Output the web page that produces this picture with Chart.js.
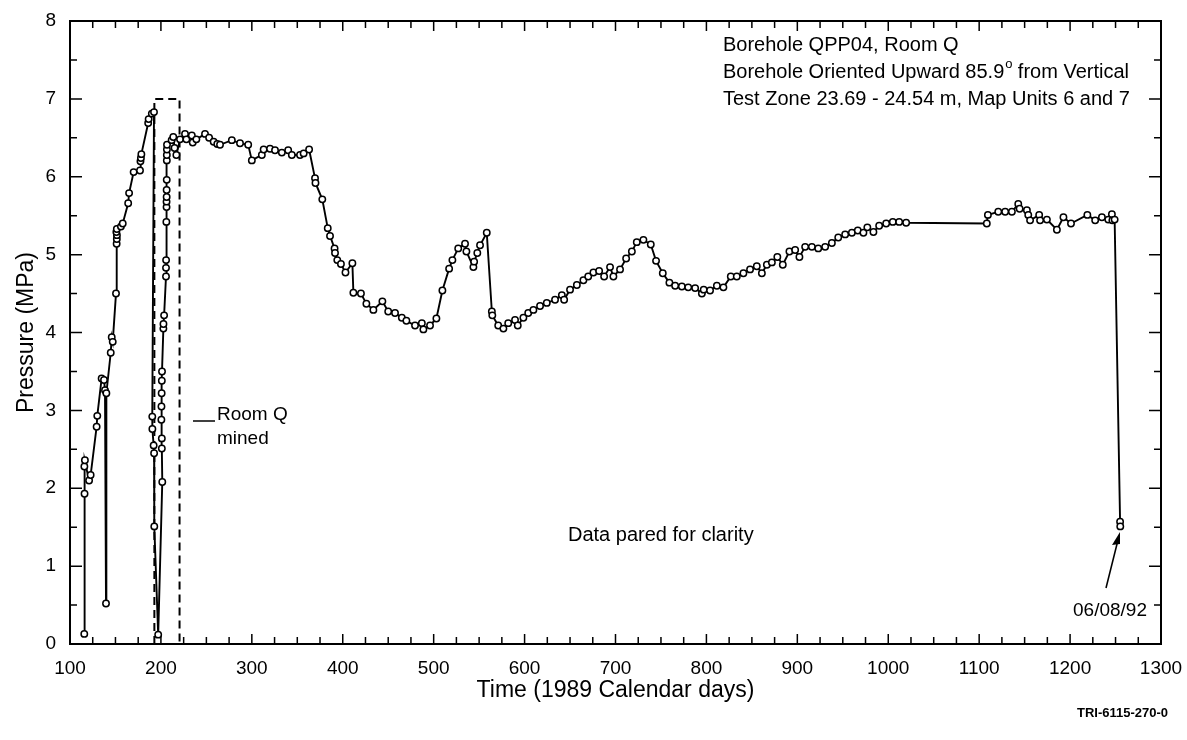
<!DOCTYPE html>
<html>
<head>
<meta charset="utf-8">
<script src="https://cdn.jsdelivr.net/npm/chart.js@4.4.1/dist/chart.umd.min.js"></script>
<style>
  html, body { margin: 0; padding: 0; background: #fff; }
  #wrap { width: 1187px; height: 740px; }
</style>
</head>
<body>
<div id="wrap"><canvas id="pressureChart" width="1187" height="740"></canvas></div>
<script>
// time in 1989 calendar days, pressure in MPa
const days = [
  115.7, 116.0, 115.8, 116.4, 121.0, 122.7, 129.3, 130.0, 134.8, 137.4,
  138.5, 139.6, 140.0, 144.8, 145.9, 147.0, 150.6, 151.3, 151.5, 151.6,
  151.0, 151.5, 156.0, 158.0, 164.0, 165.0, 170.0, 177.0, 177.5, 178.0,
  178.5, 186.0, 186.5, 190.0, 192.4, 190.5, 190.6, 192.0, 192.5, 192.7,
  197.0, 201.5, 201.0, 201.0, 200.5, 200.6, 200.8, 201.0, 201.2, 202.7,
  202.8, 203.5, 205.6, 205.6, 205.7, 206.0, 206.2, 206.2, 206.3, 206.3,
  206.4, 206.5, 206.5, 206.6, 206.7, 211.8, 213.6, 215.0, 217.0, 221.0,
  226.5, 228.0, 234.0, 235.0, 239.0, 248.5, 253, 258, 262, 265,
  278, 287, 296, 300, 311, 313, 320, 325.5, 333, 340,
  344, 353, 357, 363, 369.5, 370, 377.5, 383.5, 386, 391,
  391.5, 394, 398, 403, 410.6, 411.7, 420, 426, 433.7, 443.6,
  450, 457.5, 465, 470, 479.5, 487, 488.7, 496, 503, 509.6,
  517, 520.6, 527, 534.5, 536, 543.7, 544.5, 548, 551, 558.4,
  564, 564.5, 571, 576.7, 582, 589.5, 592.5, 598.7, 604, 609.7,
  617, 624.4, 633.5, 641, 643.5, 650, 657.5, 664.7, 670, 675.7,
  682, 687.5, 694, 697.7, 705, 711.7, 718, 723.4, 730.7, 738.8,
  744.6, 752, 759.3, 765.6, 773, 780, 787.6, 795, 797, 804,
  811.5, 818.7, 826.8, 833.4, 840.7, 848, 855.4, 861, 866.5, 872,
  878, 884, 891.3, 897.6, 902.3, 908.6, 916, 923, 930.6, 938,
  945, 952.6, 960, 966.5, 972.7, 977, 983.7, 990, 997.7, 1005,
  1012, 1019.7, 1108.4, 1109.6, 1121, 1128.6, 1136, 1143, 1144.5, 1152.5,
  1154, 1156, 1166, 1167, 1174.5, 1185.5, 1192.7, 1201, 1219, 1227.6,
  1235, 1242, 1246, 1246.5, 1249, 1255, 1255.2
];
const pressureMPa = [
  0.13, 1.93, 2.28, 2.36, 2.10, 2.17, 2.79, 2.93, 3.41, 3.39,
  3.26, 0.52, 3.22, 3.74, 3.94, 3.88, 4.50, 5.14, 5.20, 5.25,
  5.29, 5.33, 5.36, 5.40, 5.66, 5.79, 6.06, 6.08, 6.20, 6.24,
  6.29, 6.69, 6.74, 6.81, 6.83, 2.92, 2.76, 2.55, 2.45, 1.51,
  0.12, 2.08, 2.51, 2.64, 2.88, 3.05, 3.22, 3.38, 3.50, 4.05,
  4.11, 4.22, 4.72, 4.83, 4.93, 5.42, 5.61, 5.68, 5.74, 5.83,
  5.96, 6.21, 6.28, 6.35, 6.41, 6.47, 6.51, 6.37, 6.28, 6.48,
  6.55, 6.48, 6.53, 6.44, 6.48, 6.55, 6.50, 6.45, 6.42, 6.41,
  6.47, 6.43, 6.41, 6.21, 6.28, 6.35, 6.36, 6.34, 6.31, 6.34,
  6.28, 6.28, 6.30, 6.35, 5.98, 5.92, 5.71, 5.34, 5.24, 5.08,
  5.02, 4.93, 4.88, 4.77, 4.89, 4.51, 4.50, 4.37, 4.29, 4.40,
  4.27, 4.25, 4.19, 4.15, 4.09, 4.12, 4.04, 4.09, 4.18, 4.54,
  4.82, 4.93, 5.08, 5.14, 5.04, 4.84, 4.91, 5.02, 5.12, 5.28,
  4.27, 4.22, 4.09, 4.05, 4.12, 4.16, 4.09, 4.19, 4.25, 4.29,
  4.34, 4.38, 4.42, 4.48, 4.42, 4.55, 4.61, 4.67, 4.72, 4.77,
  4.79, 4.72, 4.84, 4.72, 4.81, 4.95, 5.04, 5.16, 5.19, 5.13,
  4.92, 4.76, 4.64, 4.60, 4.59, 4.58, 4.57, 4.50, 4.55, 4.54,
  4.60, 4.58, 4.72, 4.72, 4.76, 4.81, 4.85, 4.76, 4.87, 4.90,
  4.97, 4.87, 5.04, 5.06, 4.97, 5.10, 5.10, 5.08, 5.10, 5.15,
  5.22, 5.26, 5.28, 5.31, 5.28, 5.35, 5.29, 5.37, 5.40, 5.42,
  5.42, 5.41, 5.40, 5.51, 5.55, 5.55, 5.55, 5.65, 5.59, 5.57,
  5.51, 5.44, 5.51, 5.44, 5.45, 5.32, 5.48, 5.40, 5.51, 5.44,
  5.48, 5.45, 5.52, 5.44, 5.45, 1.57, 1.51
];

// "Room Q mined" window (dashed box)
const boxDays = [192.8, 192.8, 220.5, 220.5];
const boxMPa = [0, 7, 7, 0];

const xTicks = [100, 200, 300, 400, 500, 600, 700, 800, 900, 1000, 1100, 1200, 1300];
const yTicks = [0, 1, 2, 3, 4, 5, 6, 7, 8];

const FONT = "'Liberation Sans', Arial, sans-serif";

const series = days.map((d, i) => ({ x: d, y: pressureMPa[i] }));
const box = boxDays.map((d, i) => ({ x: d, y: boxMPa[i] }));

// frame, inward ticks on all four sides, and the notes
const frameAndNotes = {
  id: "frameAndNotes",
  beforeDatasetsDraw(chart) {
    const ctx = chart.ctx;
    const a = chart.chartArea;
    const xs = chart.scales.x;
    const ys = chart.scales.y;
    ctx.save();
    ctx.strokeStyle = "#000";
    ctx.lineWidth = 2;
    ctx.strokeRect(a.left, a.top, a.right - a.left, a.bottom - a.top);

    ctx.lineWidth = 1.5;
    ctx.beginPath();
    for (let d = 100; d <= 1300; d += 25) {
      const px = xs.getPixelForValue(d);
      const len = d % 100 === 0 ? 10 : 7;
      ctx.moveTo(px, a.bottom); ctx.lineTo(px, a.bottom - len);
      ctx.moveTo(px, a.top); ctx.lineTo(px, a.top + len);
    }
    for (let p = 0; p <= 8; p += 0.5) {
      const py = ys.getPixelForValue(p);
      const len = p % 1 === 0 ? 12 : 7;
      ctx.moveTo(a.left, py); ctx.lineTo(a.left + len, py);
      ctx.moveTo(a.right, py); ctx.lineTo(a.right - len, py);
    }
    ctx.stroke();
    ctx.restore();
  },
  afterDraw(chart) {
    const ctx = chart.ctx;
    ctx.save();
    ctx.fillStyle = "#000";
    ctx.strokeStyle = "#000";
    ctx.textBaseline = "alphabetic";
    ctx.textAlign = "left";

    ctx.font = "20px " + FONT;
    ctx.fillText("Borehole QPP04, Room Q", 723, 51);
    const l2a = "Borehole Oriented Upward 85.9";
    ctx.fillText(l2a, 723, 78);
    let w = ctx.measureText(l2a).width;
    ctx.font = "13px " + FONT;
    ctx.fillText("o", 723 + w + 1, 68);
    ctx.font = "20px " + FONT;
    ctx.fillText(" from Vertical", 723 + w + 8, 78);
    ctx.fillText("Test Zone 23.69 - 24.54 m, Map Units 6 and 7", 723, 105);

    ctx.font = "19px " + FONT;
    ctx.fillText("Room Q", 217, 420);
    ctx.fillText("mined", 217, 444);
    ctx.lineWidth = 1.5;
    ctx.beginPath();
    ctx.moveTo(193, 421); ctx.lineTo(215, 421);
    ctx.stroke();

    ctx.font = "20px " + FONT;
    ctx.fillText("Data pared for clarity", 568, 541);

    ctx.font = "19px " + FONT;
    ctx.textAlign = "center";
    ctx.fillText("06/08/92", 1110, 616);
    // arrow to the last reading
    ctx.beginPath();
    ctx.moveTo(1106, 588); ctx.lineTo(1119, 536);
    ctx.stroke();
    ctx.beginPath();
    ctx.moveTo(1120, 532); ctx.lineTo(1112, 545); ctx.lineTo(1120, 544);
    ctx.closePath();
    ctx.fill();

    ctx.textAlign = "right";
    ctx.font = "bold 13px " + FONT;
    ctx.fillText("TRI-6115-270-0", 1168, 717);
    ctx.restore();
  }
};

new Chart(document.getElementById("pressureChart"), {
  type: "scatter",
  data: {
    datasets: [
      {
        label: "QPP04",
        data: series,
        showLine: true,
        borderColor: "#000",
        borderWidth: 1.9,
        pointRadius: 3.2,
        pointBorderWidth: 1.5,
        pointBorderColor: "#000",
        pointBackgroundColor: "#fff",
        order: 1
      },
      {
        label: "Room Q mined",
        data: box,
        showLine: true,
        borderColor: "#000",
        borderWidth: 2,
        borderDash: [8, 5],
        pointRadius: 0,
        order: 2
      }
    ]
  },
  options: {
    responsive: false,
    animation: false,
    layout: { padding: { top: 21, right: 26, left: 0, bottom: 0 } },
    plugins: { legend: { display: false }, tooltip: { enabled: false } },
    scales: {
      x: {
        type: "linear",
        min: 100,
        max: 1300,
        afterFit(scale) {
          scale.height = 96;
          scale.paddingLeft = 0;
          scale.paddingRight = 0;
        },
        afterBuildTicks(scale) { scale.ticks = xTicks.map(v => ({ value: v })); },
        grid: { display: false, drawTicks: false },
        border: { display: false },
        ticks: {
          color: "#000", padding: 13, maxRotation: 0,
          font: { family: FONT, size: 19 },
          callback: (v) => String(v)
        },
        title: {
          display: true,
          text: "Time (1989 Calendar days)",
          color: "#000",
          font: { family: FONT, size: 23 },
          padding: { bottom: 36 }
        }
      },
      y: {
        type: "linear",
        min: 0,
        max: 8,
        afterFit(scale) {
          scale.width = 70;
          scale.paddingTop = 0;
          scale.paddingBottom = 0;
        },
        afterBuildTicks(scale) { scale.ticks = yTicks.map(v => ({ value: v })); },
        grid: { display: false, drawTicks: false },
        border: { display: false },
        ticks: {
          color: "#000", padding: 14,
          font: { family: FONT, size: 19 },
          callback: (v) => String(v)
        },
        title: {
          display: true,
          text: "Pressure (MPa)",
          color: "#000",
          font: { family: FONT, size: 23 },
          padding: { top: 13 }
        }
      }
    }
  },
  plugins: [frameAndNotes]
});
</script>
</body>
</html>
